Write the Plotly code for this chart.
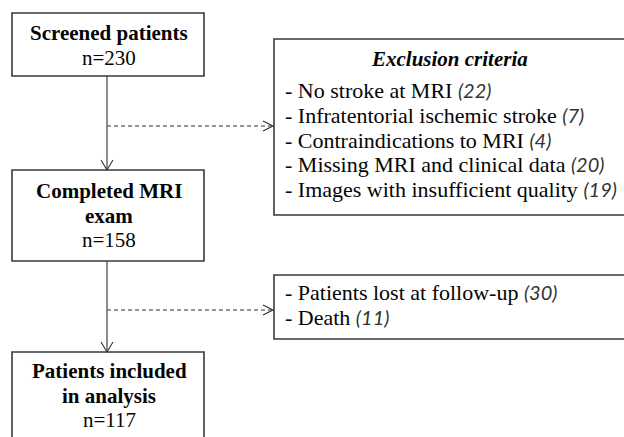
import plotly.graph_objects as go

# ---- data ----
main_lines = [["Screened patients"], ["Completed MRI", "exam"], ["Patients included", "in analysis"]]
main_counts = [230, 158, 117]
excl_title = "Exclusion criteria"
excl_labels = ["No stroke at MRI", "Infratentorial ischemic stroke", "Contraindications to MRI",
               "Missing MRI and clinical data", "Images with insufficient quality"]
excl_counts = [22, 7, 4, 20, 19]
lost_labels = ["Patients lost at follow-up", "Death"]
lost_counts = [30, 11]

W, H = 624, 437
SERIF = "Liberation Serif"
NUMFONT = "Lato"
MAIN_SIZE = 21
LIST_SIZE = 22

fig = go.Figure()
shapes = []

def box(x0, y0, x1, y1):
    shapes.append(dict(type="rect", x0=x0, y0=y0, x1=x1, y1=y1,
                       line=dict(color="#3a3a3a", width=1.6), fillcolor="white", layer="below"))

def line(x0, y0, x1, y1, dash="solid"):
    shapes.append(dict(type="line", x0=x0, y0=y0, x1=x1, y1=y1,
                       line=dict(color="#303030", width=1.1, dash=dash)))

def chevron(x, y, direction):
    if direction == "down":
        p = f"M {x-6} {y-10} L {x} {y} L {x+6} {y-10}"
    else:
        p = f"M {x-10} {y-5} L {x} {y} L {x-10} {y+5}"
    shapes.append(dict(type="path", path=p, line=dict(color="#303030", width=1.1)))

def text(x, baseline, s, size, anchor="center"):
    fig.add_annotation(x=x, y=baseline - 0.28 * size, text=s, xref="x", yref="y",
                       showarrow=False, xanchor=anchor, yanchor="middle",
                       font=dict(family=SERIF, size=size, color="#050505"))

def num(n):
    return (f"<span style='font-family:{NUMFONT}; font-style:italic; color:#333333; "
            f"font-size:{LIST_SIZE - 2}px'><i>({n})</i></span>")

# main boxes
mx0, mx1 = 12, 204
cx = (mx0 + mx1) / 2 + 1
main_boxes = [(13, 76), (170, 261), (352, 460)]
first_baselines = [39, 197, 377]
for (y0, y1), lines, n, b0 in zip(main_boxes, main_lines, main_counts, first_baselines):
    box(mx0, y0, mx1, y1)
    for i, ln in enumerate(lines):
        text(cx, b0 + 24.5 * i, f"<b>{ln}</b>", MAIN_SIZE)
    text(cx, b0 + 24.5 * len(lines), f"n={n}", MAIN_SIZE)

# vertical arrows
vx = 107
line(vx, 76, vx, 170); chevron(vx, 170, "down")
line(vx, 261, vx, 352); chevron(vx, 352, "down")

# side boxes
sx0, sx1 = 274, 640
box(sx0, 39, sx1, 215)
box(sx0, 275, sx1, 339)
line(vx, 126, sx0 - 1, 126, "4px,3px"); chevron(sx0 - 1, 126, "right")
line(vx, 310, sx0 - 1, 310, "4px,3px"); chevron(sx0 - 1, 310, "right")

text(449, 65, f"<b><i>{excl_title}</i></b>", MAIN_SIZE)
for i, (lab, n) in enumerate(zip(excl_labels, excl_counts)):
    text(283, 97 + i * 24.6, f"- {lab} " + num(n), LIST_SIZE, "left")
for i, (lab, n) in enumerate(zip(lost_labels, lost_counts)):
    text(283, 299 + i * 24.5, f"- {lab} " + num(n), LIST_SIZE, "left")

fig.update_layout(
    width=W, height=H, margin=dict(l=0, r=0, t=0, b=0),
    paper_bgcolor="white", plot_bgcolor="white", shapes=shapes, showlegend=False,
    xaxis=dict(range=[0, W], visible=False, fixedrange=True),
    yaxis=dict(range=[H, 0], visible=False, fixedrange=True),
)
fig.write_html("out.html", config={"displayModeBar": False},
               post_script="document.body.style.margin='0';")
